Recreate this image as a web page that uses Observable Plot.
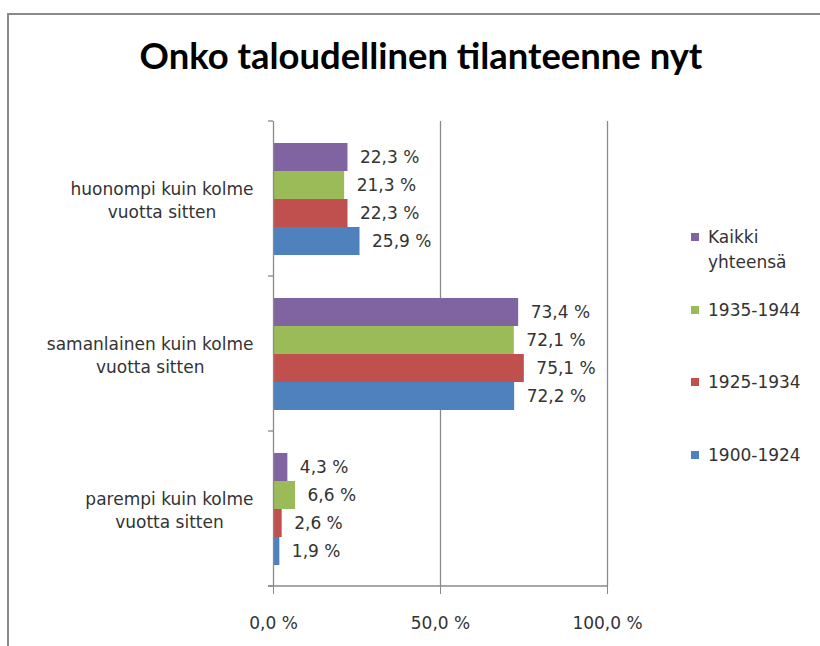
<!DOCTYPE html>
<html>
<head>
<meta charset="utf-8">
<script src="https://cdn.jsdelivr.net/npm/d3@7"></script>
<script src="https://cdn.jsdelivr.net/npm/@observablehq/plot@0.6"></script>
<style>
  html, body { margin: 0; padding: 0; background: #fff; }
  #wrap { position: relative; width: 820px; height: 646px; overflow: hidden; background: #fff; }
  #frame { position: absolute; left: 7px; top: 13px; width: 900px; height: 800px; border-top: 2px solid #8a8a8a; border-left: 2px solid #8a8a8a; box-sizing: border-box; }
  #title { position: absolute; left: 0; width: 842px; top: 40px; height: 30px; line-height: 30px; text-align: center; font-family: Lato, "DejaVu Sans", sans-serif; font-weight: bold; color: #000; white-space: nowrap; }
  #chart { position: absolute; left: 0; top: 100px; }
  #legend { position: absolute; left: 0; top: 0; }
  .litem { position: absolute; left: 691px; width: 120px; font-family: "DejaVu Sans", sans-serif; font-size: 17px; line-height: 25px; color: #333; }
  .lsw { position: absolute; left: 0; top: 8px; width: 8px; height: 8px; }
  .ltx { position: absolute; left: 17px; width: 100px; }
  [aria-label="x-axis tick"] { color: #888; }
  [aria-label="x-axis tick label"] { color: #333; }
</style>
</head>
<body>
<div id="wrap">
  <div id="frame"></div>
  <div id="title"></div>
  <div id="chart"></div>
  <div id="legend"></div>
</div>
<script>
// ---- data ----
const titleText = "Onko taloudellinen tilanteenne nyt";
const categories = [
  "huonompi kuin kolme vuotta sitten",
  "samanlainen kuin kolme vuotta sitten",
  "parempi kuin kolme vuotta sitten"
];
const categoryLabels = [
  "huonompi kuin kolme\nvuotta sitten",
  "samanlainen kuin kolme\nvuotta sitten",
  "parempi kuin kolme\nvuotta sitten"
];
const series = ["Kaikki yhteensä", "1935-1944", "1925-1934", "1900-1924"];
const valuesKaikki = [22.3, 73.4, 4.3];
const values1935 = [21.3, 72.1, 6.6];
const values1925 = [22.3, 75.1, 2.6];
const values1900 = [25.9, 72.2, 1.9];
const seriesColors = ["#8064A2", "#9BBB59", "#C0504D", "#4F81BD"];
const xTicks = [0, 50, 100];

const seriesValues = [valuesKaikki, values1935, values1925, values1900];
const data = [];
categories.forEach((c, i) => {
  series.forEach((s, j) => data.push({cat: c, series: s, value: seriesValues[j][i]}));
});
const labelRows = categories.map((c, i) => ({cat: c, label: categoryLabels[i]}));
const fmt = v => v.toFixed(1).replace(".", ",") + " %";

// ---- title ----
const titleEl = document.getElementById("title");
titleEl.textContent = titleText;
{
  const ctx = document.createElement("canvas").getContext("2d");
  ctx.font = "bold 30px Lato";
  const w = ctx.measureText(titleText).width;
  const size = 30 * 563 / w;
  titleEl.style.fontSize = size.toFixed(2) + "px";
}

// ---- chart ----
const plot = Plot.plot({
  width: 820,
  height: 546,
  marginTop: 20,
  marginBottom: 60,
  marginLeft: 273,
  marginRight: 213,
  style: {fontFamily: "DejaVu Sans, sans-serif", fontSize: "17px", color: "#333", background: "transparent", overflow: "visible"},
  x: {domain: [0, 100], ticks: xTicks, tickFormat: fmt, tickSize: 8, tickPadding: 22, label: null},
  y: {domain: series, paddingInner: 0, paddingOuter: 0.72, axis: null},
  fy: {domain: categories, padding: 0, axis: null, label: null},
  color: {domain: series, range: seriesColors},
  marks: [
    Plot.ruleX([50, 100], {stroke: "#8a8a8a", strokeWidth: 1.3}),
    Plot.barX(data, {fy: "cat", y: "series", x: "value", fill: "series"}),
    Plot.ruleX([0], {stroke: "#8a8a8a", strokeWidth: 1.3}),
    Plot.text(data, {fy: "cat", y: "series", x: "value", text: d => fmt(d.value), textAnchor: "start", dx: 12, fill: "#333"}),
    Plot.text(labelRows, {fy: "cat", text: "label", frameAnchor: "left", textAnchor: "end", dx: -20, lineHeight: 1.35, fill: "#333", ariaDescription: "catlabels"})
  ]
});
document.getElementById("chart").append(plot);

// center multi-line category labels (Excel style) keeping right edge fixed
d3.select(plot).selectAll("text").each(function () {
  if (this.querySelectorAll("tspan").length < 2) return;
  const w = this.getBBox().width;
  this.setAttribute("text-anchor", "middle");
  this.querySelectorAll("tspan").forEach(ts => ts.setAttribute("text-anchor", "middle"));
  const t = this.getAttribute("transform") || "";
  this.setAttribute("transform", t + ` translate(${-w / 2},0)`);
});

// axis decorations: category boundary ticks and bottom axis line
{
  const xs = plot.scale("x");
  const fys = plot.scale("fy");
  const x0 = xs.apply(0), x1 = xs.apply(100);
  let bounds;
  if (fys && fys.apply) {
    bounds = categories.map(c => fys.apply(c));
    bounds.push(fys.apply(categories[categories.length - 1]) + fys.bandwidth);
  } else {
    const top = 20, bottom = 546 - 60, step = (bottom - top) / categories.length;
    bounds = d3.range(categories.length + 1).map(i => top + i * step);
  }
  const g = d3.select(plot).append("g").attr("stroke", "#8a8a8a").attr("stroke-width", 1.3);
  bounds.forEach(b => g.append("line").attr("x1", x0 - 5).attr("x2", x0).attr("y1", b).attr("y2", b));
  const yb = bounds[bounds.length - 1];
  g.append("line").attr("x1", x0 - 5).attr("x2", x1).attr("y1", yb).attr("y2", yb);
}

// ---- legend ----
const legendTops = [225, 298, 370, 443];
const legend = document.getElementById("legend");
series.forEach((s, i) => {
  const item = document.createElement("div");
  item.className = "litem";
  item.style.top = legendTops[i] + "px";
  const sw = document.createElement("div");
  sw.className = "lsw";
  sw.style.background = seriesColors[i];
  const tx = document.createElement("div");
  tx.className = "ltx";
  tx.textContent = s;
  item.append(sw, tx);
  legend.append(item);
});
</script>
</body>
</html>
